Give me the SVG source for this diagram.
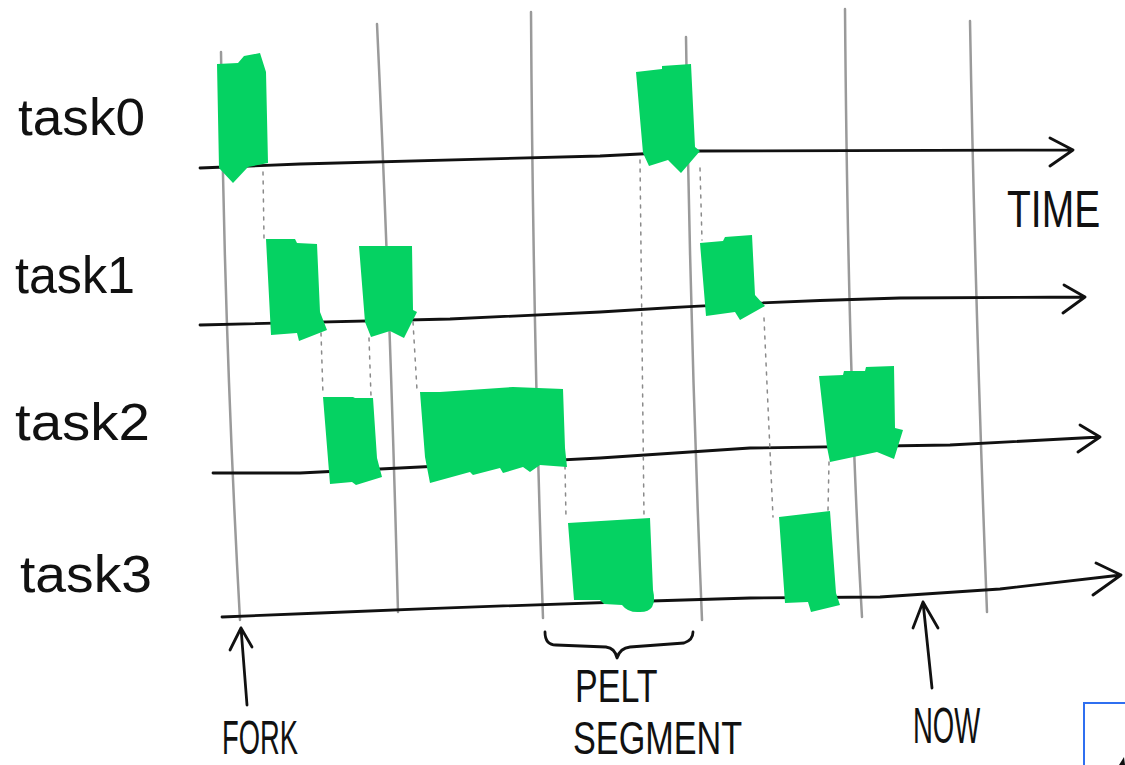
<svg xmlns="http://www.w3.org/2000/svg" width="1125" height="765" viewBox="0 0 1125 765">
<style>
.bg{fill:#ffffff}
.grid{fill:none;stroke:#9a9a9a;stroke-width:2.5;stroke-linecap:round}
.axis{fill:none;stroke:#111;stroke-width:2.8;stroke-linecap:round;stroke-linejoin:round}
.blk{fill:#05d262;stroke:none}
.dash{fill:none;stroke:#8a8a8a;stroke-width:1.5;stroke-dasharray:3 6;stroke-linecap:round}
.lbl{font-family:"Liberation Sans",Arial,sans-serif;fill:#111}
.task{font-size:52px}
.ink{fill:none;stroke:#111;stroke-width:2.8;stroke-linecap:round;stroke-linejoin:round}
</style>
<rect class="bg" x="0" y="0" width="1125" height="765"/>
<g id="grid">
<path class="grid" d="M221,52 Q224,330 240,620"/>
<path class="grid" d="M377,24 Q390,300 398,612"/>
<path class="grid" d="M531,12 Q533,330 543,618"/>
<path class="grid" d="M686,37 Q690,330 702,620"/>
<path class="grid" d="M845,9 Q848,380 862,617"/>
<path class="grid" d="M970,21 Q975,300 987,612"/>
</g>
<g id="axes">
<path class="axis" d="M200,168 L300,164 Q450,160 600,156 L700,151 L1073,150 M1050,138 L1073,150 L1050,166"/>
<path class="axis" d="M200,325 Q330,322 450,319 L600,312 Q750,302 900,298 L1085,297 M1064,285 L1085,297 L1063,313"/>
<path class="axis" d="M213,473 L300,473 Q450,466 600,458 L750,448 L950,445 L1100,437 M1080,425 L1100,437 L1078,452"/>
<path class="axis" d="M222,617 L320,613 Q540,604 750,598 L880,597 L1000,589 L1121,575 M1096,563 L1121,575 L1093,595"/>
</g>
<g id="connectors">
<path class="dash" d="M263,172 L264,238"/>
<path class="dash" d="M321,333 L323,395"/>
<path class="dash" d="M369,338 L371,396"/>
<path class="dash" d="M413,322 L417,390"/>
<path class="dash" d="M565,466 L566,518"/>
<path class="dash" d="M640,160 L644,517"/>
<path class="dash" d="M700,168 L702,240"/>
<path class="dash" d="M764,318 L773,517"/>
<path class="dash" d="M829,462 L828,510"/>
</g>
<g id="task0-blocks">
<polygon class="blk" points="217,64 238,63 244,56 260,53 266,72 268,163 248,167 233,183 219,168"/>
<polygon class="blk" points="636,72 662,69 662,66 691,64 695,147 700,151 681,173 668,160 649,166 643,153"/>
</g>
<g id="task1-blocks">
<polygon class="blk" points="266,239 295,239 297,243 317,244 320,312 327,330 299,341 297,333 271,335"/>
<polygon class="blk" points="359,246 412,246 413,310 417,312 404,338 390,331 371,337 365,322"/>
<polygon class="blk" points="700,243 723,241 725,237 752,235 755,295 765,306 740,320 735,312 706,316"/>
</g>
<g id="task2-blocks">
<polygon class="blk" points="323,397 353,397 355,398 373,398 377,458 382,477 356,485 352,482 330,484"/>
<polygon class="blk" points="420,392 440,392 513,387 563,389 565,448 567,467 540,465 530,472 523,467 503,473 500,468 473,475 470,472 430,483 425,457"/>
<polygon class="blk" points="819,376 843,375 844,371 865,371 866,367 894,366 895,428 903,430 894,459 877,452 830,462 827,447"/>
</g>
<g id="task3-blocks">
<path class="blk" d="M568,523 L650,518 L653,590 Q658,612 640,612 Q628,613 622,605 L604,604 L600,600 L574,600 Z"/>
<polygon class="blk" points="779,517 830,511 836,593 840,605 811,612 808,602 785,603"/>
</g>
<g id="task-labels">
<text class="lbl task" x="18" y="135" textLength="127" lengthAdjust="spacingAndGlyphs">task0</text>
<text class="lbl task" x="15" y="293" textLength="120" lengthAdjust="spacingAndGlyphs">task1</text>
<text class="lbl task" x="15" y="440" textLength="135" lengthAdjust="spacingAndGlyphs">task2</text>
<text class="lbl task" x="20" y="592" textLength="132" lengthAdjust="spacingAndGlyphs">task3</text>
</g>
<g id="time-label">
<text class="lbl" font-size="52" transform="translate(1007,227) scale(0.75,1)">TIME</text>
</g>
<g id="fork-marker">
<path class="ink" d="M247,705 L241,628 M230,650 L241,628 L252,647"/>
<text class="lbl" font-size="48" transform="translate(222,754) scale(0.57,1)">FORK</text>
</g>
<g id="pelt-segment">
<path class="ink" d="M545,632 Q545,645 556,645 L606,647 Q615,648 617,658 Q620,648 630,647 L684,643 Q693,640 693,632"/>
<text class="lbl" font-size="46" transform="translate(575,702) scale(0.74,1)">PELT</text>
<text class="lbl" font-size="46" transform="translate(573,754) scale(0.744,1)">SEGMENT</text>
</g>
<g id="now-marker">
<path class="ink" d="M932,688 L923,602 M913,628 L923,602 L938,628"/>
<text class="lbl" font-size="50" transform="translate(913,743) scale(0.55,1)">NOW</text>
</g>
<g id="corner">
<path d="M1084,765 L1084,703 L1125,703" fill="none" stroke="#2f6ff0" stroke-width="2"/>
<polygon points="1119,765 1124,757 1125,765" fill="#111"/>
</g>
</svg>
